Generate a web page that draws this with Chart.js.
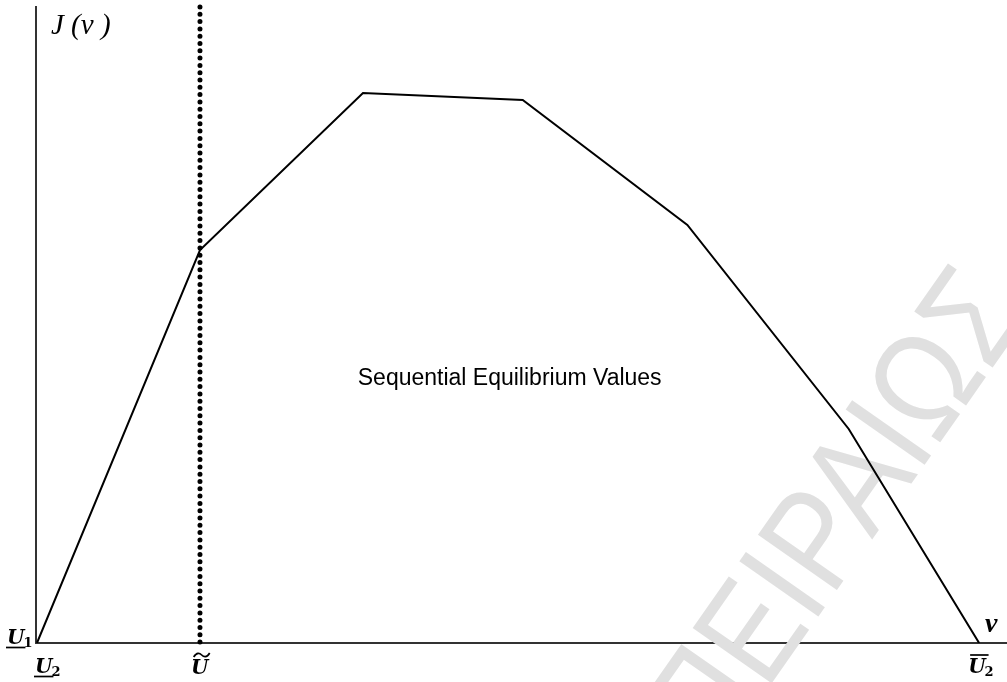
<!DOCTYPE html>
<html>
<head>
<meta charset="utf-8">
<script src="https://cdn.jsdelivr.net/npm/chart.js@4/dist/chart.umd.min.js"></script>
<style>
  html, body { margin: 0; padding: 0; background: #fff; }
  #wrap { width: 1007px; height: 682px; position: relative; }
</style>
</head>
<body>
<div id="wrap"><canvas id="chart"></canvas></div>
<script>
// equilibrium value curve J(v)
const vPoints = [0, 1, 2, 2.98, 3.99, 4.98, 5.78];
const jValues = [0, 3.93, 5.5, 5.43, 4.18, 2.14, 0];

// marked points on the v axis
const uTilde = 1;
const uLow = 0;
const uHigh = 5.78;

const xMin = -0.006;
const xMax = 5.951;
const yMax = 6.36;

const centerText = "Sequential Equilibrium Values";
const watermark = "ΠΕΙΡΑΙΩΣ";

const curve = vPoints.map((v, i) => ({ x: v, y: jValues[i] }));
const dotted = [{ x: uTilde, y: yMax }, { x: uTilde, y: 0 }];

// draws U with a subscript and an under/over line or tilde
function drawU(ctx, x, base, sub, deco) {
  ctx.font = "italic bold 20px 'DejaVu Serif'";
  ctx.textAlign = "left";
  ctx.textBaseline = "alphabetic";
  const w = ctx.measureText("U").width;
  ctx.fillText("U", x, base);
  if (sub) {
    ctx.font = "bold 13px 'DejaVu Serif'";
    ctx.fillText(sub, x + w - 1, base + 3);
  }
  ctx.lineWidth = 1.7;
  ctx.beginPath();
  if (deco === "under") {
    ctx.moveTo(x - 1, base + 3.5);
    ctx.lineTo(x + w + 1, base + 3.5);
  } else if (deco === "over") {
    ctx.moveTo(x + 2, base - 18);
    ctx.lineTo(x + w + 3, base - 18);
  } else if (deco === "tilde") {
    const cx = x + w / 2 + 2;
    const ty = base - 19;
    ctx.moveTo(cx - 8, ty + 2);
    ctx.bezierCurveTo(cx - 5, ty - 3, cx - 2, ty - 2, cx, ty);
    ctx.bezierCurveTo(cx + 2, ty + 2, cx + 5, ty + 3, cx + 8, ty - 2);
  }
  ctx.stroke();
}

const labelsPlugin = {
  id: "labels",
  beforeDatasetsDraw(chart) {
    const { ctx, scales } = chart;
    const x = scales.x, y = scales.y;
    // faint watermark behind the curve
    ctx.save();
    ctx.translate(x.getPixelForValue(4.94), y.getPixelForValue(1.28));
    ctx.rotate(-55 * Math.PI / 180);
    ctx.scale(0.86, 1);
    ctx.fillStyle = "#e0e0e0";
    ctx.font = "140px 'Liberation Sans'";
    ctx.textAlign = "center";
    ctx.textBaseline = "middle";
    ctx.fillText(watermark, 0, 0);
    ctx.restore();
  },
  afterDraw(chart) {
    const { ctx, scales, chartArea } = chart;
    const x = scales.x, y = scales.y;
    const bottom = chartArea.bottom;
    ctx.save();
    ctx.fillStyle = "#000";
    ctx.strokeStyle = "#000";

    ctx.font = "italic 29px 'Liberation Serif'";
    ctx.textAlign = "left";
    ctx.textBaseline = "alphabetic";
    ctx.fillText("J (v )", chartArea.left + 15, chartArea.top + 27);

    ctx.font = "italic bold 28px 'Liberation Serif'";
    ctx.fillText("v", x.right - 22, bottom - 11);

    drawU(ctx, chartArea.left - 29, bottom + 1, "1", "under");
    drawU(ctx, x.getPixelForValue(uLow) - 2, bottom + 30, "2", "under");
    drawU(ctx, x.getPixelForValue(uTilde) - 9, bottom + 31, "", "tilde");
    drawU(ctx, x.getPixelForValue(uHigh) - 11, bottom + 30, "2", "over");

    ctx.font = "23px 'Liberation Sans'";
    ctx.textAlign = "center";
    ctx.fillText(centerText, x.getPixelForValue(2.9), y.getPixelForValue(2.58));
    ctx.restore();
  }
};

new Chart(document.getElementById("chart"), {
  type: "scatter",
  data: {
    datasets: [
      {
        data: curve,
        showLine: true,
        borderColor: "#000",
        borderWidth: 2,
        pointRadius: 0,
        tension: 0
      },
      {
        data: dotted,
        showLine: true,
        borderColor: "#000",
        borderWidth: 5,
        borderDash: [0, 7.3],
        borderCapStyle: "round",
        pointRadius: 0,
        clip: false
      }
    ]
  },
  options: {
    responsive: true,
    maintainAspectRatio: false,
    animation: false,
    events: [],
    layout: { padding: { left: 36, right: 0, top: 7, bottom: 39 } },
    plugins: {
      legend: { display: false },
      tooltip: { enabled: false }
    },
    scales: {
      x: {
        type: "linear",
        min: xMin,
        max: xMax,
        grid: { display: false, drawTicks: false },
        ticks: { display: false },
        border: { display: true, color: "#333", width: 2 }
      },
      y: {
        type: "linear",
        min: 0,
        max: yMax,
        grid: { display: false, drawTicks: false },
        ticks: { display: false },
        border: { display: true, color: "#333", width: 2 }
      }
    }
  },
  plugins: [labelsPlugin]
});
</script>
</body>
</html>
